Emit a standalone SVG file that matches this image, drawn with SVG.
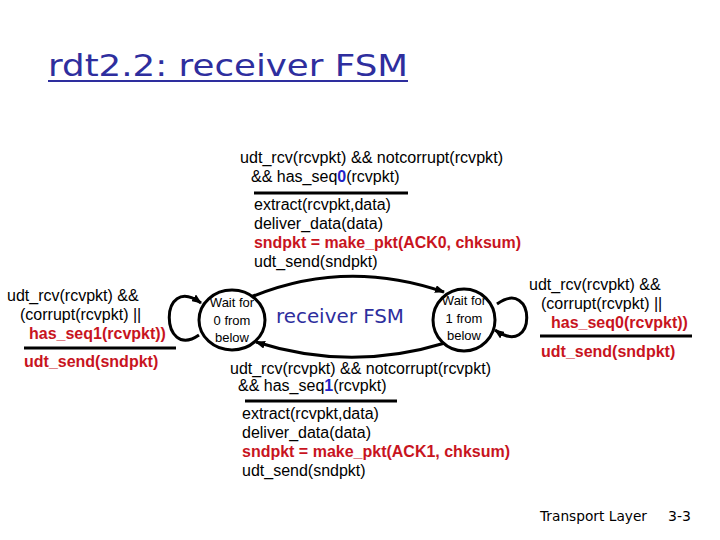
<svg xmlns="http://www.w3.org/2000/svg" width="720" height="540" viewBox="0 0 720 540">
<defs>
<marker id="ah" markerWidth="10" markerHeight="8" refX="9" refY="4" orient="auto" markerUnits="userSpaceOnUse">
<path d="M0,0 L10,4 L0,8 Z" fill="#000"/>
</marker>
<style>
.t{font-family:"Liberation Sans",Arial,sans-serif;font-size:16px;fill:#000}
.r{font-weight:bold;fill:#c8141e}
.b{font-weight:bold;fill:#2323c8}
.s{font-family:"Liberation Sans",Arial,sans-serif;font-size:13px;fill:#000;text-anchor:middle}
.st{fill:#fff;stroke:#000;stroke-width:3}
.e{fill:none;stroke:#000;stroke-width:3}
.c{font-family:"DejaVu Sans",sans-serif;fill:#2e2e9e}
.ln{stroke:#000;stroke-width:3}
</style>
</defs>
<rect width="720" height="540" fill="#fff"/>
<text class="c" x="48" y="76" font-size="31" textLength="360" lengthAdjust="spacingAndGlyphs">rdt2.2: receiver FSM</text>
<line x1="48" y1="81" x2="408" y2="81" stroke="#2e2e9e" stroke-width="2"/>

<g id="connectors">
<path class="e" d="M251,297 Q345,258 444,292" marker-end="url(#ah)"/>
<path class="e" d="M445,343 Q350,372 256,342" marker-end="url(#ah)"/>
<path class="e" d="M199,335 C160,362 158,272 201,303" marker-end="url(#ah)"/>
<path class="e" d="M497,304 C536,276 538,360 495,330" marker-end="url(#ah)"/>
</g>

<g id="state0">
<ellipse class="st" cx="232" cy="320" rx="33" ry="30"/>
<text class="s" x="232" y="307">Wait for</text>
<text class="s" x="232" y="325">0 from</text>
<text class="s" x="232" y="342">below</text>
</g>
<g id="state1">
<ellipse class="st" cx="464" cy="320" rx="31" ry="31"/>
<text class="s" x="464" y="305">Wait for</text>
<text class="s" x="464" y="323">1 from</text>
<text class="s" x="464" y="340">below</text>
</g>

<text class="c" x="276" y="323" font-size="19" textLength="128" lengthAdjust="spacingAndGlyphs">receiver FSM</text>

<g id="label-top">
<text class="t" x="240" y="163" textLength="263" lengthAdjust="spacingAndGlyphs">udt_rcv(rcvpkt) &amp;&amp; notcorrupt(rcvpkt)</text>
<text class="t" x="251" y="182">&amp;&amp; has_seq<tspan class="b">0</tspan>(rcvpkt)</text>
<line class="ln" x1="254" y1="193" x2="408" y2="193"/>
<text class="t" x="254" y="210">extract(rcvpkt,data)</text>
<text class="t" x="254" y="229">deliver_data(data)</text>
<text class="t r" x="254" y="248" textLength="267" lengthAdjust="spacingAndGlyphs">sndpkt = make_pkt(ACK0, chksum)</text>
<text class="t" x="254" y="267">udt_send(sndpkt)</text>
</g>

<g id="label-left">
<text class="t" x="7" y="301">udt_rcv(rcvpkt) &amp;&amp;</text>
<text class="t" x="20" y="320">(corrupt(rcvpkt) ||</text>
<text class="t r" x="29" y="339">has_seq1(rcvpkt))</text>
<line class="ln" x1="24" y1="348" x2="176" y2="348"/>
<text class="t r" x="24" y="367">udt_send(sndpkt)</text>
</g>

<g id="label-bottom">
<text class="t" x="230" y="374" textLength="261" lengthAdjust="spacingAndGlyphs">udt_rcv(rcvpkt) &amp;&amp; notcorrupt(rcvpkt)</text>
<text class="t" x="238" y="391">&amp;&amp; has_seq<tspan class="b">1</tspan>(rcvpkt)</text>
<line class="ln" x1="245" y1="401" x2="397" y2="401"/>
<text class="t" x="242" y="419">extract(rcvpkt,data)</text>
<text class="t" x="242" y="438">deliver_data(data)</text>
<text class="t r" x="242" y="457" textLength="268" lengthAdjust="spacingAndGlyphs">sndpkt = make_pkt(ACK1, chksum)</text>
<text class="t" x="242" y="476">udt_send(sndpkt)</text>
</g>

<g id="label-right">
<text class="t" x="529" y="290">udt_rcv(rcvpkt) &amp;&amp;</text>
<text class="t" x="541" y="309">(corrupt(rcvpkt) ||</text>
<text class="t r" x="551" y="328">has_seq0(rcvpkt))</text>
<line class="ln" x1="540" y1="336" x2="692" y2="336"/>
<text class="t r" x="541" y="357">udt_send(sndpkt)</text>
</g>

<text class="c" x="540" y="521" font-size="14" style="fill:#000" textLength="107" lengthAdjust="spacingAndGlyphs">Transport Layer</text>
<text class="c" x="668" y="521" font-size="14" style="fill:#000">3-3</text>
</svg>
